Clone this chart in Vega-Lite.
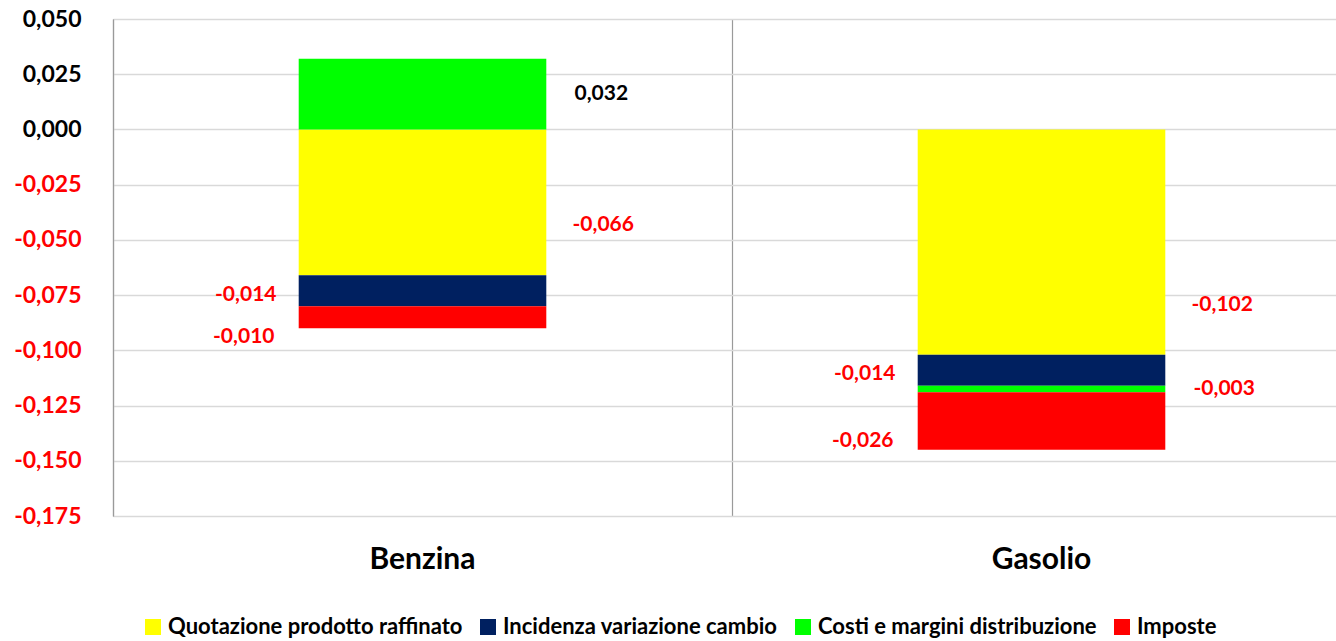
{
  "$schema": "https://vega.github.io/schema/vega-lite/v6.json",
  "width": 1223,
  "height": 497,
  "autosize": {"type": "none"},
  "padding": {"left": 113, "top": 19, "right": 0, "bottom": 125},
  "background": "white",
  "config": {
    "locale": {"number": {"decimal": ",", "thousands": ".", "grouping": [3], "currency": ["", " €"], "minus": "-"}},
    "view": {"stroke": null},
    "font": "Lato"
  },
  "data": {"values": [
    {"fuel": "Benzina", "series": "Quotazione prodotto raffinato", "order": 1, "value": -0.066},
    {"fuel": "Benzina", "series": "Incidenza variazione cambio", "order": 2, "value": -0.014},
    {"fuel": "Benzina", "series": "Costi e margini distribuzione", "order": 3, "value": 0.032},
    {"fuel": "Benzina", "series": "Imposte", "order": 4, "value": -0.010},
    {"fuel": "Gasolio", "series": "Quotazione prodotto raffinato", "order": 1, "value": -0.102},
    {"fuel": "Gasolio", "series": "Incidenza variazione cambio", "order": 2, "value": -0.014},
    {"fuel": "Gasolio", "series": "Costi e margini distribuzione", "order": 3, "value": -0.003},
    {"fuel": "Gasolio", "series": "Imposte", "order": 4, "value": -0.026}
  ]},
  "transform": [
    {"stack": "value", "groupby": ["fuel"], "sort": [{"field": "order", "order": "ascending"}], "as": ["v0", "v1"], "offset": "zero"},
    {"calculate": "(datum.v0 + datum.v1) / 2", "as": "mid"}
  ],
  "encoding": {
    "x": {
      "field": "fuel", "type": "nominal",
      "scale": {"range": [0, 1238], "paddingInner": 0, "paddingOuter": 0},
      "axis": {
        "title": null, "labelAngle": 0, "domain": false, "ticks": false,
        "grid": true, "bandPosition": 0, "gridColor": "#9a9a9a", "gridWidth": 1.2,
        "labelFont": "Lato", "labelFontWeight": "bold", "labelFontSize": 30, "labelColor": "black",
        "labelPadding": 28
      }
    }
  },
  "layer": [
    {
      "mark": {"type": "bar", "width": {"band": 0.4}},
      "encoding": {
        "y": {
          "field": "v0", "type": "quantitative",
          "scale": {"domain": [-0.175, 0.05], "nice": false, "zero": false},
          "axis": {
            "title": null,
            "values": [-0.175, -0.15, -0.125, -0.1, -0.075, -0.05, -0.025, 0, 0.025, 0.05],
            "format": ".3f",
            "domain": true, "domainColor": "#9a9a9a", "domainWidth": 1.2,
            "ticks": false, "grid": true, "gridColor": "#d9d9d9", "gridWidth": 1.6,
            "labelFont": "Lato", "labelFontWeight": "bold", "labelFontSize": 23,
            "labelPadding": 32,
            "labelColor": {"condition": {"test": "datum.value < 0", "value": "#FF0000"}, "value": "black"}
          }
        },
        "y2": {"field": "v1"},
        "color": {
          "field": "series", "type": "nominal",
          "scale": {
            "domain": ["Quotazione prodotto raffinato", "Incidenza variazione cambio", "Costi e margini distribuzione", "Imposte"],
            "range": ["#FFFF00", "#002060", "#00FF00", "#FF0000"]
          },
          "legend": {
            "title": null, "orient": "none", "direction": "horizontal",
            "legendX": 29, "legendY": 597,
            "symbolType": "square", "symbolSize": 256, "symbolStrokeWidth": 0,
            "labelFont": "Lato", "labelFontWeight": "bold", "labelFontSize": 22, "labelColor": "black",
            "labelLimit": 0,
            "columnPadding": 14, "labelOffset": 4, "symbolOffset": 0
          }
        }
      }
    },
    {
      "transform": [{"filter": "datum.series == 'Costi e margini distribuzione'"}],
      "mark": {"type": "text", "align": "left", "baseline": "middle", "dx": 152, "font": "Lato", "fontWeight": "bold", "fontSize": 21},
      "encoding": {
        "y": {"field": "mid", "type": "quantitative"},
        "text": {"field": "value", "type": "quantitative", "format": ".3f"},
        "color": {"condition": {"test": "datum.value < 0", "value": "#FF0000"}, "value": "black"}
      }
    },
    {
      "transform": [{"filter": "datum.series == 'Quotazione prodotto raffinato'"}],
      "mark": {"type": "text", "align": "left", "baseline": "middle", "dx": 150, "dy": -50, "font": "Lato", "fontWeight": "bold", "fontSize": 21},
      "encoding": {
        "y": {"field": "v1", "type": "quantitative"},
        "text": {"field": "value", "type": "quantitative", "format": ".3f"},
        "color": {"condition": {"test": "datum.value < 0", "value": "#FF0000"}, "value": "black"}
      }
    },
    {
      "transform": [{"filter": "datum.series == 'Incidenza variazione cambio'"}],
      "mark": {"type": "text", "align": "right", "baseline": "middle", "dx": -146, "dy": 4, "font": "Lato", "fontWeight": "bold", "fontSize": 21},
      "encoding": {
        "y": {"field": "mid", "type": "quantitative"},
        "text": {"field": "value", "type": "quantitative", "format": ".3f"},
        "color": {"condition": {"test": "datum.value < 0", "value": "#FF0000"}, "value": "black"}
      }
    },
    {
      "transform": [{"filter": "datum.series == 'Imposte'"}],
      "mark": {"type": "text", "align": "right", "baseline": "middle", "dx": -148, "dy": 20, "font": "Lato", "fontWeight": "bold", "fontSize": 21},
      "encoding": {
        "y": {"field": "mid", "type": "quantitative"},
        "text": {"field": "value", "type": "quantitative", "format": ".3f"},
        "color": {"condition": {"test": "datum.value < 0", "value": "#FF0000"}, "value": "black"}
      }
    }
  ]
}
